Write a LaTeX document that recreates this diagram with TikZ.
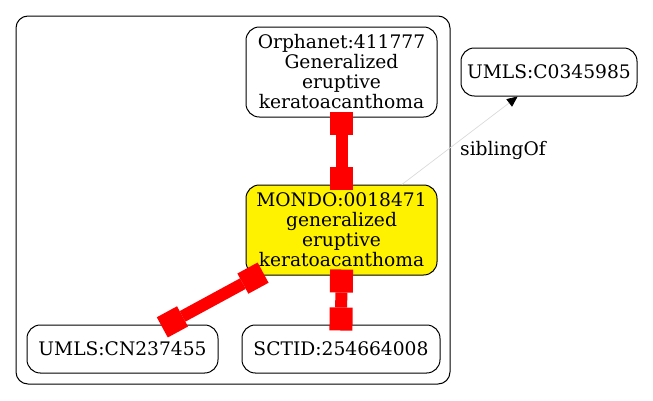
\documentclass[tikz,border=0pt]{standalone}
\usepackage{fontspec}
\setmainfont{DejaVu Serif}
\usetikzlibrary{arrows.meta}
\begin{document}
\begin{tikzpicture}[x=0.75pt,y=-0.75pt,
  every node/.style={font=\fontsize{14pt}{15pt}\selectfont},
  term/.style={draw=black, line width=0.75pt, rounded corners=10pt, align=center, inner sep=0pt, minimum width=143.25pt},
  tall/.style={term, minimum height=67.5pt},
  short/.style={term, minimum height=36pt},
  redlink/.style={draw=red, line width=9pt,
    {Square[length=17.25pt,width=17.25pt,line width=0pt]}-{Square[length=17.25pt,width=17.25pt,line width=0pt]},
    shorten <=-4.5pt, shorten >=-4.5pt},
  sib/.style={draw=black!15, line width=0.5pt, -{Triangle[length=8pt,width=7pt,fill=black,color=black]}}
]
\useasboundingbox (0,0) rectangle (653,400);
\node[draw=black, line width=0.75pt, rounded corners=9pt, minimum width=325.5pt, minimum height=276pt, inner sep=0pt] (cluster) at (233,200) {};
\node[tall] (orph) at (341.5,72) {Orphanet:411777\\Generalized\\eruptive\\keratoacanthoma};
\node[tall, fill=yellow] (mondo) at (341.5,230) {MONDO:0018471\\generalized\\eruptive\\keratoacanthoma};
\node[short] (cn) at (122.5,349) {UMLS:CN237455};
\node[short, minimum width=148.5pt] (sct) at (341,349) {SCTID:254664008};
\node[short, minimum width=132pt] (c03) at (549,72) {UMLS:C0345985};
\node (lbl) at (503,150) {siblingOf};
\draw[redlink, shorten >=-3.75pt] (orph.south) -- (mondo.north);
\draw[redlink] (mondo.south) -- (sct.north);
\draw[redlink] (mondo) -- (cn);
\draw[sib] (mondo.37.6) -- (c03.218.7);
\end{tikzpicture}
\end{document}
